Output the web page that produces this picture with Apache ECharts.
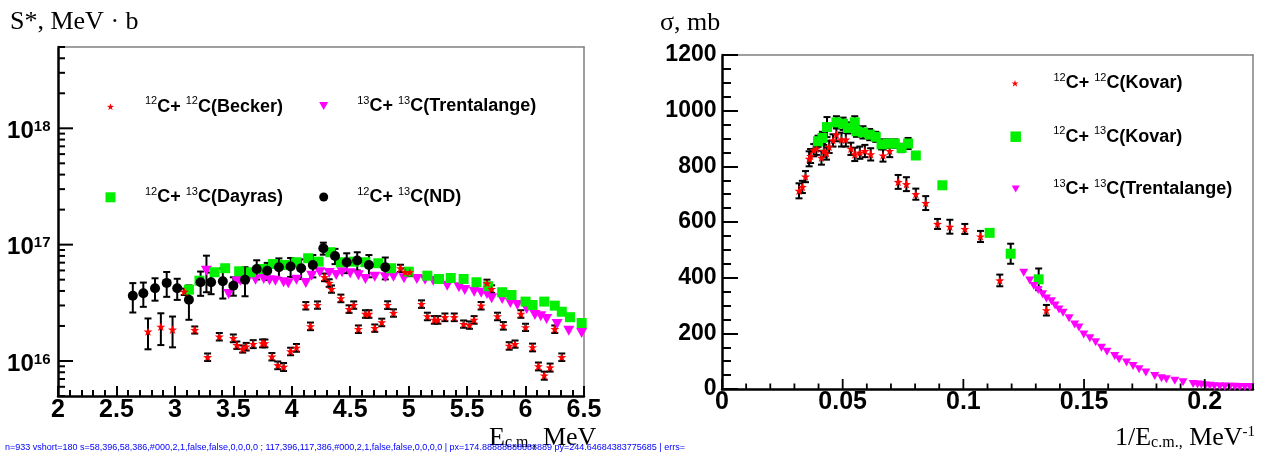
<!DOCTYPE html>
<html><head><meta charset="utf-8">
<script>window.__errs = []; window.onerror = function (m, s, l, c) { window.__errs.push(m + '@' + l + ':' + c); };</script>
<script src="https://cdn.jsdelivr.net/npm/echarts@6.0.0/dist/echarts.min.js"></script>
<style>html,body{margin:0;padding:0;background:#fff}#c{width:1268px;height:456px}</style>
</head><body><div id="c"></div>
<script>
const beckerX = [2.77,2.88,2.98,3.08,3.17,3.28,3.38,3.50,3.53,3.58,3.61,3.67,3.75,3.77,3.83,3.88,3.93,3.99,4.04,4.12,4.16,4.22,4.28,4.32,4.34,4.42,4.49,4.53,4.57,4.63,4.66,4.71,4.77,4.82,4.87,4.93,4.97,5.01,5.11,5.16,5.22,5.25,5.31,5.39,5.47,5.52,5.56,5.62,5.67,5.71,5.76,5.81,5.86,5.91,5.96,6.00,6.06,6.11,6.16,6.21,6.25,6.31];
const beckerY = [1.79,1.97,1.86,3.94,1.85,1.08,1.62,1.57,1.37,1.27,1.33,1.40,1.42,1.42,1.09,0.92,0.89,1.21,1.30,2.99,1.99,3.03,5.25,4.69,4.16,3.46,2.80,3.03,1.88,2.54,2.54,1.92,2.15,3.03,2.59,6.27,5.79,5.79,3.09,2.42,2.26,2.26,2.38,2.38,2.08,2.04,2.26,2.99,4.66,4.16,2.42,2.01,1.35,1.40,2.54,1.95,1.31,0.90,0.75,0.88,1.88,1.08];
const beckerErr = [0.53,0.60,0.55,0.25,0.13,0.08,0.12,0.12,0.10,0.09,0.10,0.11,0.11,0.11,0.08,0.07,0.07,0.09,0.10,0.22,0.15,0.22,0.40,0.35,0.30,0.26,0.21,0.22,0.14,0.19,0.19,0.14,0.16,0.23,0.19,0.45,0.43,0.43,0.23,0.18,0.17,0.17,0.18,0.18,0.15,0.15,0.17,0.22,0.34,0.31,0.18,0.15,0.10,0.10,0.19,0.14,0.10,0.07,0.06,0.07,0.14,0.08];
const trentX = [3.27,3.46,3.53,3.56,3.62,3.69,3.76,3.81,3.86,3.93,3.97,4.04,4.12,4.17,4.24,4.32,4.38,4.43,4.50,4.57,4.63,4.71,4.80,4.87,4.96,5.07,5.14,5.21,5.33,5.43,5.48,5.56,5.62,5.67,5.71,5.80,5.87,5.93,6.01,6.08,6.13,6.18,6.27,6.37,6.48];
const trentY = [5.97,3.77,4.81,4.90,4.95,5.00,5.07,4.95,4.90,4.75,4.66,5.00,4.69,5.41,5.79,5.70,5.48,5.79,5.67,5.45,5.07,5.30,5.24,5.30,5.14,5.07,5.00,4.90,4.44,4.30,4.08,3.94,3.85,3.77,3.46,3.41,3.15,3.03,2.80,2.49,2.42,2.30,2.08,1.82,1.74];
const trentErrX = [3.27];
const trentErrY = [5.97];
const trentErrE = [2.07];
const dayrasX = [3.12,3.21,3.34,3.43,3.55,3.65,3.75,3.84,3.94,4.04,4.14,4.23,4.33,4.42,4.53,4.63,4.74,4.85,5.00,5.16,5.26,5.36,5.47,5.58,5.68,5.80,5.88,6.00,6.06,6.16,6.25,6.31,6.38,6.48];
const dayrasY = [4.10,4.90,5.79,6.27,5.90,5.79,6.18,6.82,6.69,7.06,7.64,7.14,8.61,7.06,7.14,7.06,6.92,6.27,5.86,5.41,5.07,5.17,5.07,4.75,4.39,3.90,3.69,3.24,3.03,3.24,2.99,2.65,2.38,2.12];
const ndX = [2.64,2.73,2.83,2.93,3.02,3.12,3.22,3.31,3.41,3.50,3.60,3.70,3.79,3.89,3.99,4.08,4.18,4.27,4.37,4.47,4.56,4.66,4.80];
const ndY = [3.64,3.82,4.22,4.69,4.22,3.36,4.75,4.75,4.84,4.44,5.00,6.18,5.97,6.39,6.48,6.27,6.69,9.30,8.00,7.06,7.30,6.69,6.39];
const ndErr = [1.03,0.90,0.92,1.13,0.87,1.10,1.12,1.00,1.40,0.80,1.40,1.16,1.00,1.23,1.20,1.20,1.46,1.10,1.20,1.37,1.30,1.45,1.36];
const kovar12X = [0.0319,0.0333,0.0346,0.0361,0.0367,0.0380,0.0391,0.0412,0.0422,0.0433,0.0444,0.0460,0.0474,0.0495,0.0513,0.0534,0.0550,0.0571,0.0592,0.0616,0.0667,0.0695,0.0730,0.0764,0.0803,0.0844,0.0893,0.0944,0.1006,0.1071,0.1151,0.1344];
const kovar12Y = [712,726,763,827,837,858,863,831,855,846,870,893,914,896,896,863,843,849,855,843,839,855,744,736,700,668,593,583,575,548,390,283];
const kovar12Err = [27,22,20,27,25,22,22,25,22,22,22,22,24,25,25,22,24,22,22,22,22,22,25,25,20,25,18,25,18,20,21,19];
const kovar13X = [0.0398,0.0416,0.0435,0.0474,0.0502,0.0522,0.0550,0.0557,0.0584,0.0612,0.0637,0.0661,0.0688,0.0716,0.0744,0.0771,0.0803,0.0913,0.1109,0.1196,0.1312];
const kovar13Y = [890,902,941,958,953,938,958,926,922,914,906,879,882,882,866,882,839,732,561,486,394];
const kovar13Err = [20,22,36,22,22,20,22,20,22,20,18,18,15,15,15,20,8,8,8,36,39];
const trentRX = [0.1250,0.1275,0.1292,0.1310,0.1328,0.1344,0.1365,0.1380,0.1396,0.1413,0.1438,0.1461,0.1479,0.1499,0.1524,0.1548,0.1572,0.1595,0.1627,0.1645,0.1676,0.1703,0.1728,0.1756,0.1793,0.1821,0.1841,0.1876,0.1910,0.1952,0.1970,0.1986,0.2003,0.2021,0.2040,0.2062,0.2083,0.2104,0.2125,0.2145,0.2166,0.2187];
const trentRY = [418,390,370,356,340,325,315,300,286,274,254,232,221,196,182,168,148,134,119,107,95,83,71,59,47,39,35,30,24,18,16,15,13,12,10,9,9,8,8,7,7,7];

const leftXRange = {min: 2, max: 6.5, interval: 0.5};
const leftYRange = {min: 5e15, max: 5e18};
const rightXRange = {min: 0, max: 0.22};
const rightYRange = {min: 0, max: 1200, interval: 200};
const leftXMajor = [2, 2.5, 3, 3.5, 4, 4.5, 5, 5.5, 6, 6.5];
const logMajor = [1e16, 1e17, 1e18];
const logMult = [2, 3, 4, 5, 6, 7, 8, 9];
const logDecades = [1e15, 1e16, 1e17, 1e18];
const rightXMajor = [0, 0.05, 0.1, 0.15, 0.2];
const rightYMajor = [0, 200, 400, 600, 800, 1000, 1200];
const leftXMinor = [];
for (let i = 20; i <= 65; i++) if (i % 5) leftXMinor.push(i / 10);
const logMinor = [];
logDecades.forEach(d => logMult.forEach(m => { const v = d * m; if (v >= leftYRange.min && v <= leftYRange.max) logMinor.push(v); }));
const rightXMinor = [];
for (let i = 1; i <= 22; i++) if (i % 5) rightXMinor.push(i / 100);
const rightYMinor = [];
for (let i = 50; i < 1200; i += 50) if (i % 200) rightYMinor.push(i);

const E16 = 1e16;
const SANS = '"Liberation Sans", Arial, Helvetica, sans-serif';
const SERIF = '"Liberation Serif", "Times New Roman", serif';
const STAR = 'path://M0,-10L2.351,-3.236L9.511,-3.09L3.804,1.236L5.878,8.09L0,4L-5.878,8.09L-3.804,1.236L-9.511,-3.09L-2.351,-3.236Z';
const TRI_DOWN = 'path://M0,0L10,0L5,9Z';
const RED = '#ff0000', GREEN = '#00f000', MAGENTA = '#ff00ff';

function pts(xs, ys, k) { return xs.map((x, i) => [x, ys[i] * k]); }
function bars(xs, ys, es, k) { return xs.map((x, i) => [x, (ys[i] - es[i]) * k, (ys[i] + es[i]) * k]); }
function errSeries(data, xi, yi, cap) {
  return {
    type: 'custom', xAxisIndex: xi, yAxisIndex: yi, silent: true, z: 2, data: data,
    renderItem: function (params, api) {
      const x = api.value(0);
      const lo = api.coord([x, api.value(1)]);
      const hi = api.coord([x, api.value(2)]);
      const st = {stroke: '#000', lineWidth: 2};
      return {type: 'group', children: [
        {type: 'line', shape: {x1: lo[0], y1: lo[1], x2: hi[0], y2: hi[1]}, style: st},
        {type: 'line', shape: {x1: lo[0] - cap, y1: lo[1], x2: lo[0] + cap, y2: lo[1]}, style: st},
        {type: 'line', shape: {x1: hi[0] - cap, y1: hi[1], x2: hi[0] + cap, y2: hi[1]}, style: st}
      ]};
    }
  };
}
// tick marks as a custom series: each item is [along-axis value, other-axis anchor]
function tickSeries(vals, dir, anchor, xi, yi, len, w) {
  return {
    type: 'custom', xAxisIndex: xi, yAxisIndex: yi, silent: true, z: 6,
    data: vals.map(v => dir === 'x' ? [v, anchor, 0] : [anchor, v, 0]),
    renderItem: function (params, api) {
      const p = api.coord([api.value(0), api.value(1)]);
      const st = {stroke: '#000', lineWidth: w};
      const shape = dir === 'x' ? {x1: p[0], y1: p[1], x2: p[0], y2: p[1] - len}
                                : {x1: p[0], y1: p[1], x2: p[0] + len, y2: p[1]};
      return {type: 'group', children: [{type: 'line', shape: shape, style: st}]};
    }
  };
}

const NAMES = {
  becker: '12C+12C(Becker)', trent: '13C+13C(Trentalange)', dayras: '12C+13C(Dayras)', nd: '12C+13C(ND)',
  k12: '12C+12C(Kovar)', k13: '12C+13C(Kovar)', trentR: '13C+13C(Trentalange) '
};
function legendFmt(name) {
  const m = name.trim().match(/^(\d+)C\+(\d+)C(.*)$/);
  return '{sup|' + m[1] + '}{t|C+ }{sup|' + m[2] + '}{t|C' + m[3] + '}';
}
function legend(name, icon, size, cx, cy, pad) {
  return {
    data: [{name: name, icon: icon}], left: cx - size / 2, top: cy - 11, padding: 0,
    itemWidth: size, itemHeight: size, selectedMode: false, formatter: legendFmt,
    textStyle: {
      color: '#000', fontFamily: SANS, fontSize: 18, fontWeight: 'bold', padding: [0, 0, 0, pad],
      rich: {
        t: {fontFamily: SANS, fontSize: 18, fontWeight: 'bold', lineHeight: 22, color: '#000'},
        sup: {fontFamily: SANS, fontSize: 11, fontWeight: 'normal', lineHeight: 9, verticalAlign: 'top', color: '#000'}
      }
    }
  };
}
const tickStyle = {color: '#000', width: 2};
const axisLineStyle = {show: true, onZero: false, lineStyle: {color: '#000', width: 2.5}};
const labelBase = {color: '#000', fontFamily: SANS, fontWeight: 'bold'};
function frameX(gi, r) {
  return {type: 'value', gridIndex: gi, position: 'top', min: r.min, max: r.max,
    axisLine: {show: true, onZero: false, lineStyle: {color: '#808080', width: 1.5}},
    axisTick: {show: false}, axisLabel: {show: false}, splitLine: {show: false}};
}
function frameY(gi, type, r) {
  return {type: type, gridIndex: gi, position: 'right', min: r.min, max: r.max,
    axisLine: {show: true, onZero: false, lineStyle: {color: '#808080', width: 1.5}},
    axisTick: {show: false}, axisLabel: {show: false}, splitLine: {show: false}};
}
const titles = [
  {type: 'text', silent: true, style: {text: 'S*, MeV · b', x: 10, y: 22, fill: '#000', font: '26px ' + SERIF, verticalAlign: 'middle'}},
  {type: 'text', silent: true, style: {text: 'σ, mb', x: 660, y: 23, fill: '#000', font: '26px ' + SERIF, verticalAlign: 'middle'}},
  {type: 'text', silent: true, style: {text: '{m|E}{s|c.m.,}{m| MeV}', x: 489, y: 438, verticalAlign: 'middle',
    rich: {m: {fontFamily: SERIF, fontSize: 26, lineHeight: 26, fill: '#000'}, s: {fontFamily: SERIF, fontSize: 16, lineHeight: 10, verticalAlign: 'bottom', fill: '#000'}}}},
  {type: 'text', silent: true, style: {text: '{m|1/E}{s|c.m.,}{m| MeV}{p|-1}', x: 1115, y: 438, verticalAlign: 'middle',
    rich: {m: {fontFamily: SERIF, fontSize: 26, lineHeight: 26, fill: '#000'}, s: {fontFamily: SERIF, fontSize: 16, lineHeight: 10, verticalAlign: 'bottom', fill: '#000'},
      p: {fontFamily: SERIF, fontSize: 15, lineHeight: 14, verticalAlign: 'top', fill: '#000'}}}}
];

const option = {
  animation: false,
  grid: [
    {left: 58, top: 47, width: 526, height: 349, show: false},
    {left: 722, top: 55, width: 531, height: 334, show: false}
  ],
  xAxis: [
    {type: 'value', gridIndex: 0, position: 'bottom', min: leftXRange.min, max: leftXRange.max, interval: leftXRange.interval,
      axisLine: axisLineStyle, axisTick: {show: true, inside: true, length: 10, lineStyle: tickStyle},
      minorTick: {show: true, splitNumber: 5, length: 6, lineStyle: tickStyle},
      splitLine: {show: false}, minorSplitLine: {show: false},
      axisLabel: Object.assign({fontSize: 25, margin: 2}, labelBase)},
    {type: 'value', gridIndex: 1, position: 'bottom', min: rightXRange.min, max: rightXRange.max, interval: 0.05,
      axisLine: axisLineStyle, axisTick: {show: false}, splitLine: {show: false},
      axisLabel: Object.assign({fontSize: 25, margin: 1, customValues: rightXMajor}, labelBase)},
    frameX(0, leftXRange),
    frameX(1, rightXRange)
  ],
  yAxis: [
    {type: 'log', gridIndex: 0, position: 'left', min: leftYRange.min, max: leftYRange.max, logBase: 10,
      axisLine: axisLineStyle, axisTick: {show: false}, minorTick: {show: false}, splitLine: {show: false},
      axisLabel: {show: true, margin: 7.5, customValues: logMajor, color: '#000',
        formatter: function (v) { return '{b|10}{s|' + Math.round(Math.log10(v)) + '}'; },
        rich: {
          b: {fontFamily: SANS, fontWeight: 'bold', fontSize: 24, lineHeight: 24, padding: [6, 0, 0, 0], color: '#000'},
          s: {fontFamily: SANS, fontWeight: 'bold', fontSize: 15, lineHeight: 14, padding: [3, 0, 0, 0], verticalAlign: 'top', color: '#000'}
        }}},
    {type: 'value', gridIndex: 1, position: 'left', min: rightYRange.min, max: rightYRange.max, interval: rightYRange.interval,
      axisLine: axisLineStyle, axisTick: {show: true, inside: true, length: 16, lineStyle: tickStyle},
      minorTick: {show: true, splitNumber: 4, length: 9, lineStyle: tickStyle},
      splitLine: {show: false}, minorSplitLine: {show: false},
      axisLabel: Object.assign({fontSize: 23, margin: 5.5, formatter: function (v) { return String(v); }}, labelBase)},
    frameY(0, 'log', leftYRange),
    frameY(1, 'value', rightYRange)
  ],
  legend: [
    legend(NAMES.becker, STAR, 7, 110.5, 106.7, 26),
    legend(NAMES.trent, TRI_DOWN, 9, 323.7, 106, 24),
    legend(NAMES.dayras, 'rect', 10, 110.5, 197.3, 24.5),
    legend(NAMES.nd, 'circle', 9, 323.7, 197, 24),
    legend(NAMES.k12, STAR, 7, 1015, 83.3, 30),
    legend(NAMES.k13, 'rect', 10.5, 1015.7, 136.7, 27.3),
    legend(NAMES.trentR, TRI_DOWN, 8, 1015.7, 189, 28.6)
  ],
  graphic: titles,
  series: [
    tickSeries(logMajor, 'y', leftXRange.min, 0, 0, 15, 2),
    tickSeries(logMinor, 'y', leftXRange.min, 0, 0, 7, 2),
    tickSeries(rightXMajor, 'x', rightYRange.min, 1, 1, 10, 1.8),
    tickSeries(rightXMinor, 'x', rightYRange.min, 1, 1, 5.5, 1.8),
    errSeries(bars(ndX, ndY, ndErr, E16), 0, 0, 3.5),
    errSeries(bars(beckerX, beckerY, beckerErr, E16), 0, 0, 3.5),
    errSeries(bars(trentErrX, trentErrY, trentErrE, E16), 0, 0, 3.5),
    {name: NAMES.trent, type: 'scatter', xAxisIndex: 0, yAxisIndex: 0, z: 3, symbol: TRI_DOWN, symbolSize: [11, 10], symbolKeepAspect: false,
      itemStyle: {color: MAGENTA, opacity: 1}, data: pts(trentX, trentY, E16)},
    {name: NAMES.dayras, type: 'scatter', xAxisIndex: 0, yAxisIndex: 0, z: 3, symbol: 'rect', symbolSize: 10,
      itemStyle: {color: GREEN, opacity: 1}, data: pts(dayrasX, dayrasY, E16)},
    {name: NAMES.nd, type: 'scatter', xAxisIndex: 0, yAxisIndex: 0, z: 3, symbol: 'circle', symbolSize: 10,
      itemStyle: {color: '#000', opacity: 1}, data: pts(ndX, ndY, E16)},
    {name: NAMES.becker, type: 'scatter', xAxisIndex: 0, yAxisIndex: 0, z: 4, symbol: STAR, symbolSize: 9, symbolKeepAspect: true,
      itemStyle: {color: RED, opacity: 1}, data: pts(beckerX, beckerY, E16)},
    errSeries(bars(kovar12X, kovar12Y, kovar12Err, 1), 1, 1, 3.5),
    errSeries(bars(kovar13X, kovar13Y, kovar13Err, 1), 1, 1, 3.5),
    {name: NAMES.k12, type: 'scatter', xAxisIndex: 1, yAxisIndex: 1, z: 3, symbol: STAR, symbolSize: 9, symbolKeepAspect: true,
      itemStyle: {color: RED, opacity: 1}, data: pts(kovar12X, kovar12Y, 1)},
    {name: NAMES.k13, type: 'scatter', xAxisIndex: 1, yAxisIndex: 1, z: 3, symbol: 'rect', symbolSize: 10,
      itemStyle: {color: GREEN, opacity: 1}, data: pts(kovar13X, kovar13Y, 1)},
    {name: NAMES.trentR, type: 'scatter', xAxisIndex: 1, yAxisIndex: 1, z: 3, symbol: TRI_DOWN, symbolSize: [9, 8], symbolKeepAspect: false,
      itemStyle: {color: MAGENTA, opacity: 1}, data: pts(trentRX, trentRY, 1)}
  ]
};

const chart = echarts.init(document.getElementById('c'), null, {renderer: 'canvas', width: 1268, height: 456});
let dbg = '';
try { chart.setOption(option); } catch (e) { dbg += 'SETOPT ERR ' + e.message + ' | '; }
try {
  const list = chart.getZr().storage.getDisplayList(true);
  let nShort = 0, sample = [];
  list.forEach(el => {
    if (el.type === 'line' && el.shape) {
      const L = Math.hypot(el.shape.x2 - el.shape.x1, el.shape.y2 - el.shape.y1);
      if (L > 4 && L < 17 && (el.shape.x1 === el.shape.x2 ? false : true) === false) {
        nShort++;
        if (sample.length < 2) sample.push([Math.round(el.shape.x1), Math.round(el.shape.y1), Math.round(el.shape.x2), Math.round(el.shape.y2), el.style.stroke, el.style.lineWidth, el.style.opacity, el.invisible, el.ignore, el.z, el.zlevel, Math.round(el.x||0), Math.round(el.y||0)].join(','));
      }
    }
  });
  dbg += 'n=' + list.length + ' vshort=' + nShort + ' s=' + sample.join(' ; ');
  const px = chart.convertToPixel({xAxisIndex: 0}, 3);
  const py = chart.convertToPixel({yAxisIndex: 0}, 1e17);
  dbg += ' | px=' + JSON.stringify(px) + ' py=' + JSON.stringify(py);
} catch (e) { dbg += ' DIAG ERR ' + e.message; }
dbg += ' | errs=' + window.__errs.join(';');
chart.setOption({graphic: titles.concat([{type: 'text', silent: true, style: {text: dbg, x: 5, y: 452, font: '9px sans-serif', fill: '#0000ff', verticalAlign: 'bottom'}}])});
</script></body></html>
